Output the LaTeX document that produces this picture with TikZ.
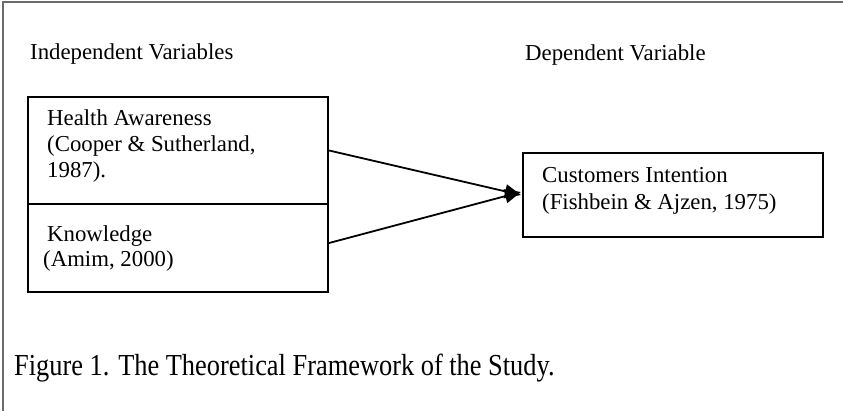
\documentclass[tikz,border=0pt]{standalone}
\usepackage{fontspec}
\setmainfont{Liberation Serif}
\usetikzlibrary{arrows.meta}
\begin{document}
\begin{tikzpicture}[x=1pt,y=-1pt,
  frameline/.style={draw=black!58,line width=2pt},
  boxline/.style={draw=black,line width=2.2pt,inner sep=0pt},
  lbl/.style={anchor=base west,inner sep=0pt,font=\fontsize{22.8}{26}\selectfont},
  captiontext/.style={anchor=base west,inner sep=0pt},
  arr/.style={draw=black,line width=1.8pt,-{Triangle[length=16pt,width=14pt]}}]
\useasboundingbox (0,0) rectangle (843,411);
% outer frame (left and top only)
\coordinate (fbl) at (3,411);
\coordinate (ftl) at (3,2);
\coordinate (ftr) at (843,2);
\draw[frameline] (fbl) -- (ftl) -- (ftr);
% headings
\node[lbl] (indep) at (30,60) {Independent Variables};
\node[lbl] (dep) at (525,61) {Dependent Variable};
% boxes
\node[boxline,minimum width=300pt,minimum height=107pt] (hw) at (178,150.5) {};
\node[boxline,minimum width=300pt,minimum height=88pt] (kn) at (178,248) {};
\node[boxline,minimum width=300pt,minimum height=84pt] (ci) at (673,195) {};
% box texts
\node[lbl] (hwt1) at (47,126) {Health Awareness};
\node[lbl] (hwt2) at (47,152) {(Cooper \& Sutherland,};
\node[lbl] (hwt3) at (47,178) {1987).};
\node[lbl] (knt1) at (47,242) {Knowledge};
\node[lbl] (knt2) at (43,267) {(Amim, 2000)};
\node[lbl] (cit1) at (542,183) {Customers Intention};
\node[lbl] (cit2) at (542,210) {(Fishbein \& Ajzen, 1975)};
% arrows
\draw[arr] (hw.east) -- ([xshift=-1pt]ci.west);
\draw[arr] ([yshift=5pt]kn.east) -- ([xshift=-1pt,yshift=3pt]ci.west);
% caption
\node[captiontext] (caption) at (14,376) {\scalebox{0.865}[1]{\fontsize{30.5}{34}\selectfont Figure 1. The Theoretical Framework of the Study.}};
\end{tikzpicture}
\end{document}
